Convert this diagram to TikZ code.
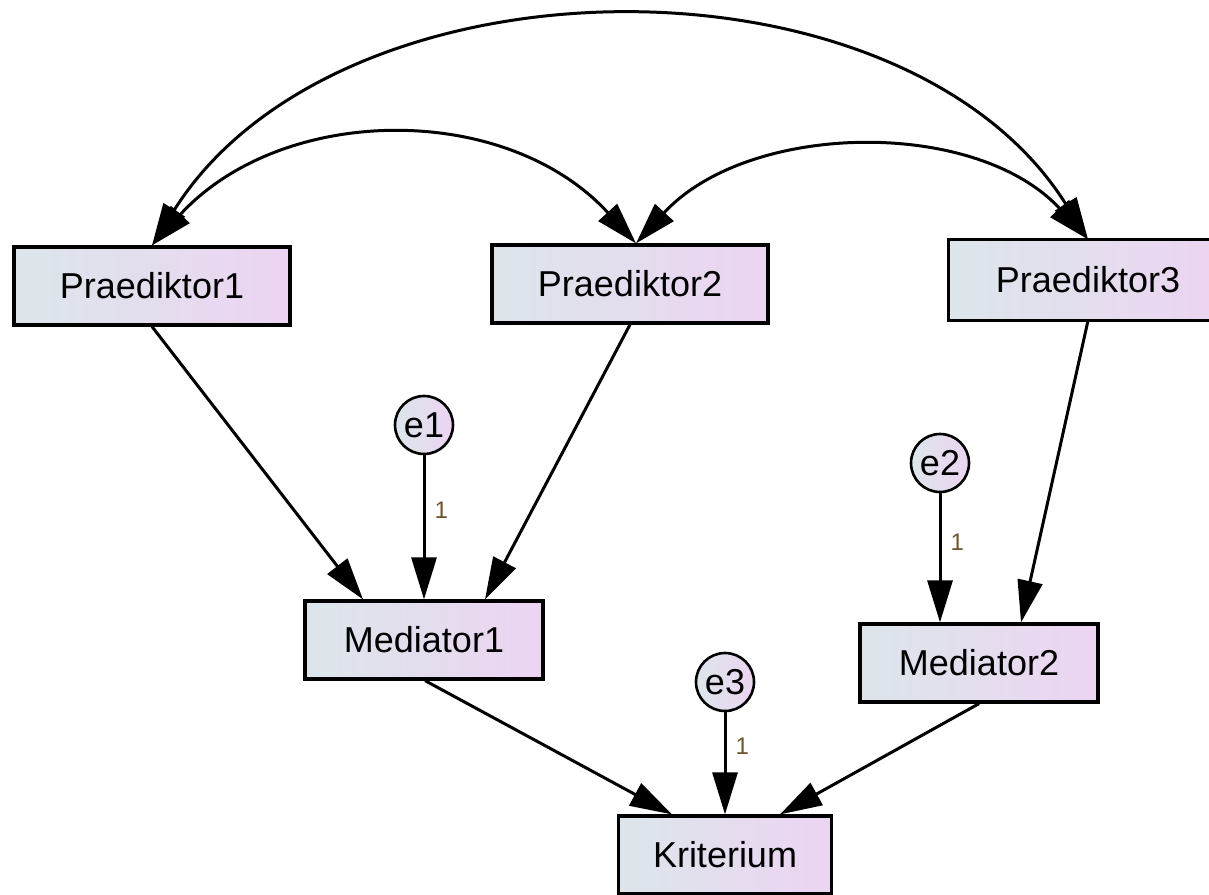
\documentclass[tikz,border=0pt]{standalone}
\usepackage{fontspec}
\setmainfont{Liberation Sans}
\usetikzlibrary{arrows.meta,calc}

\definecolor{fillL}{RGB}{220,230,234}
\definecolor{fillR}{RGB}{236,212,242}
\definecolor{wlab}{RGB}{110,85,48}

\begin{document}
\begin{tikzpicture}[x=1pt,y=-1pt,
  varbox/.style={draw=black,line width=3.2pt,rectangle,inner sep=0pt,
    minimum height=78pt,left color=fillL,right color=fillR,
    font=\fontsize{36}{40}\selectfont},
  errc/.style={draw=black,line width=2.6pt,circle,inner sep=0pt,
    minimum size=58pt,left color=fillL,right color=fillR,
    font=\fontsize{36}{40}\selectfont},
  path/.style={line width=3pt,-{Triangle[length=42pt,width=25pt]}},
  cov/.style={line width=3pt,{Triangle[length=42pt,width=25pt]}-{Triangle[length=42pt,width=25pt]}},
  wlabel/.style={font=\fontsize{24}{28}\selectfont,text=wlab,inner sep=0pt}]

\useasboundingbox (0,0) rectangle (1209,894);
\clip (0,0) rectangle (1209,894);

% observed variables
\node[varbox,minimum width=276pt] (P1) at (152,286) {Praediktor1};
\node[varbox,minimum width=276pt] (P2) at (630,284) {Praediktor2};
% Praediktor3 runs past the right edge: its border is drawn open on that side
\node[varbox,draw=none,minimum width=276pt] (P3) at (1088,280) {Praediktor3};
\draw[line width=3.2pt,line join=miter]
  ([xshift=30pt]P3.north east) -- (P3.north west) -- (P3.south west) -- ([xshift=30pt]P3.south east);
\node[varbox,minimum width=238pt] (M1) at (424,640) {Mediator1};
\node[varbox,minimum width=238pt] (M2) at (979,663) {Mediator2};
\node[varbox,minimum width=213pt] (K)  at (725,855) {Kriterium};

% error terms
\node[errc] (e1) at (424,425) {e1};
\node[errc] (e2) at (940,463) {e2};
\node[errc] (e3) at (725,682) {e3};

% attachment points on the boxes
\coordinate (P2t) at ([xshift=6pt]P2.north);
\coordinate (M1a) at ([xshift=-61pt]M1.north);
\coordinate (M1b) at ([xshift=61pt]M1.north);
\coordinate (M2a) at ([xshift=-39pt]M2.north);
\coordinate (M2b) at ([xshift=42pt]M2.north);
\coordinate (Ka)  at ([xshift=-53pt]K.north);
\coordinate (Kb)  at ([xshift=55pt]K.north);

% covariances among the predictors
\draw[cov] (P1.north) .. controls ($(P1.north)+(186,-296)$) and ($(P3.north)+(-186,-296)$) .. (P3.north);
\draw[cov] (P1.north) .. controls ($(P1.north)+(130,-142)$) and ($(P2t)+(-130,-142)$) .. (P2t);
\draw[cov] (P2t) .. controls ($(P2t)+(112,-122)$) and ($(P3.north)+(-112,-122)$) .. (P3.north);

% regression paths
\draw[path] (P1.south) -- (M1a);
\draw[path] (P2.south) -- (M1b);
\draw[path] (P3.south) -- (M2b);
\draw[path] ([xshift=1pt]M1.south) -- (Ka);
\draw[path] (M2.south) -- (Kb);

% error paths with fixed weights
\draw[path] (e1.south) -- node[wlabel,pos=0.38,right=9pt] {1} (M1.north);
\draw[path] (e2.south) -- node[wlabel,pos=0.38,right=9pt] {1} (M2a);
\draw[path] (e3.south) -- node[wlabel,pos=0.33,right=9pt] {1} (K.north);

\end{tikzpicture}
\end{document}
